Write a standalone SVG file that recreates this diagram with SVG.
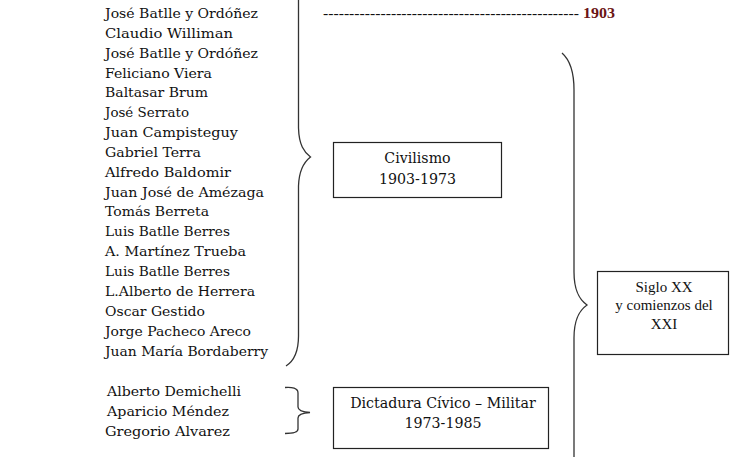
<svg xmlns="http://www.w3.org/2000/svg" width="744" height="457" viewBox="0 0 744 457">
<style>
.n{font-family:"DejaVu Serif","Liberation Serif",serif;font-size:13.5px;fill:#111}
.b{fill:none;stroke:#222;stroke-width:1.2}
.br{fill:none;stroke:#333;stroke-width:1.3}
.t{font-family:"DejaVu Serif","Liberation Serif",serif;font-size:14.2px;fill:#111;text-anchor:middle}
.s{font-family:"Liberation Serif",serif;font-size:15px;fill:#111;text-anchor:middle}
</style>
<rect width="744" height="457" fill="#fff"/>
<g id="names">
<text class="n" x="105" y="18" textLength="153" lengthAdjust="spacingAndGlyphs">José Batlle y Ordóñez</text>
<text class="n" x="105" y="38" textLength="128" lengthAdjust="spacingAndGlyphs">Claudio Williman</text>
<text class="n" x="105" y="58" textLength="153" lengthAdjust="spacingAndGlyphs">José Batlle y Ordóñez</text>
<text class="n" x="105" y="78" textLength="107" lengthAdjust="spacingAndGlyphs">Feliciano Viera</text>
<text class="n" x="105" y="97" textLength="103" lengthAdjust="spacingAndGlyphs">Baltasar Brum</text>
<text class="n" x="105" y="117" textLength="84" lengthAdjust="spacingAndGlyphs">José Serrato</text>
<text class="n" x="105" y="137" textLength="133" lengthAdjust="spacingAndGlyphs">Juan Campisteguy</text>
<text class="n" x="105" y="157" textLength="96" lengthAdjust="spacingAndGlyphs">Gabriel Terra</text>
<text class="n" x="105" y="177" textLength="126" lengthAdjust="spacingAndGlyphs">Alfredo Baldomir</text>
<text class="n" x="105" y="197" textLength="159" lengthAdjust="spacingAndGlyphs">Juan José de Amézaga</text>
<text class="n" x="105" y="216" textLength="104" lengthAdjust="spacingAndGlyphs">Tomás Berreta</text>
<text class="n" x="105" y="236" textLength="125" lengthAdjust="spacingAndGlyphs">Luis Batlle Berres</text>
<text class="n" x="105" y="256" textLength="141" lengthAdjust="spacingAndGlyphs">A. Martínez Trueba</text>
<text class="n" x="105" y="276" textLength="125" lengthAdjust="spacingAndGlyphs">Luis Batlle Berres</text>
<text class="n" x="105" y="296" textLength="150" lengthAdjust="spacingAndGlyphs">L.Alberto de Herrera</text>
<text class="n" x="105" y="316" textLength="100" lengthAdjust="spacingAndGlyphs">Oscar Gestido</text>
<text class="n" x="105" y="336" textLength="146" lengthAdjust="spacingAndGlyphs">Jorge Pacheco Areco</text>
<text class="n" x="105" y="356" textLength="163" lengthAdjust="spacingAndGlyphs">Juan María Bordaberry</text>
</g>
<g id="dictators">
<text class="n" x="107" y="396" textLength="134" lengthAdjust="spacingAndGlyphs">Alberto Demichelli</text>
<text class="n" x="107" y="416" textLength="122" lengthAdjust="spacingAndGlyphs">Aparicio Méndez</text>
<text class="n" x="105" y="436" textLength="125" lengthAdjust="spacingAndGlyphs">Gregorio Alvarez</text>
</g>
<g id="year1903">
<text x="323" y="18" font-family="Liberation Serif,serif" font-size="15" fill="#111" textLength="256" lengthAdjust="spacingAndGlyphs">-------------------------------------------------</text>
<text x="583" y="18" font-family="Liberation Serif,serif" font-size="15" font-weight="bold" fill="#6b1414" textLength="32" lengthAdjust="spacingAndGlyphs">1903</text>
</g>
<g id="connectors">
<path class="br" d="M298.5,0 L298.5,128 C299,145 304,152 310.5,157 C304,162 299,170 298.5,186 L298.5,336 C298.5,352 294,361 286,366"/>
<path class="br" d="M285,387.5 C292,387 298,388 298,393 L298,407 C298,410 303,412 310,412.5 C303,413 298,415 298,418 L298,429 C298,433 292,433.5 285,433.5"/>
<path class="br" d="M562,53 C570,60 574,72 574,90 L574,272 C574,292 580,300 587,305 C580,310 574,318 574,338 L574,457"/>
</g>
<g id="civilismo">
<rect class="b" x="333.5" y="142.5" width="168" height="55"/>
<text class="t" x="417.5" y="163">Civilismo</text>
<text class="t" x="417.5" y="184">1903-1973</text>
</g>
<g id="dictadura">
<rect class="b" x="333.5" y="387.5" width="215" height="61"/>
<text class="t" x="443" y="408">Dictadura Cívico – Militar</text>
<text class="t" x="443" y="428">1973-1985</text>
</g>
<g id="siglo">
<rect class="b" x="597.5" y="271.5" width="131" height="83"/>
<text class="s" x="664" y="292">Siglo XX</text>
<text class="s" x="664" y="310">y comienzos del</text>
<text class="s" x="664" y="329">XXI</text>
</g>
</svg>
